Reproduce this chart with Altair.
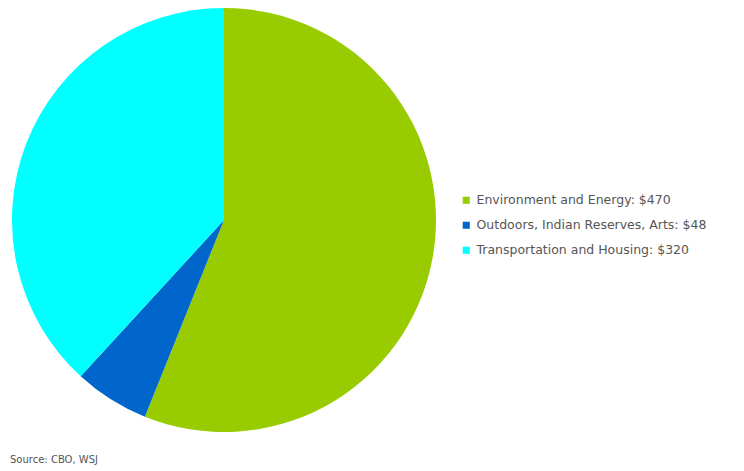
import altair as alt
import pandas as pd

categories = ["Environment and Energy: $470", "Outdoors, Indian Reserves, Arts: $48", "Transportation and Housing: $320"]
values = [470, 48, 320]
colors = ["#99CC00", "#0066CC", "#00FFFF"]
source_note = "Source: CBO, WSJ"

df = pd.DataFrame({"category": categories, "value": values, "order": list(range(len(values)))})

chart = alt.Chart(df).mark_arc(outerRadius=212, stroke=None).encode(
    theta=alt.Theta("value:Q", stack=True),
    color=alt.Color(
        "category:N",
        scale=alt.Scale(domain=categories, range=colors),
        legend=alt.Legend(
            title=None,
            orient="none",
            legendX=452,
            legendY=185,
            symbolType="square",
            symbolSize=50,
            symbolStrokeWidth=0,
            labelFont="DejaVu Sans",
            labelFontSize=12.5,
            labelColor="#555555",
            labelOffset=4,
            rowPadding=12,
            labelLimit=400,
        ),
    ),
    order=alt.Order("order:Q"),
).properties(
    width=432,
    height=422,
    padding=0,
    title=alt.TitleParams(
        text=source_note,
        orient="bottom",
        anchor="start",
        font="DejaVu Sans",
        fontSize=10,
        fontWeight="normal",
        color="#555555",
        offset=23,
        dx=2,
    ),
).configure_view(stroke=None)

chart.save("out.html", embed_options={"renderer": "svg", "actions": False})
